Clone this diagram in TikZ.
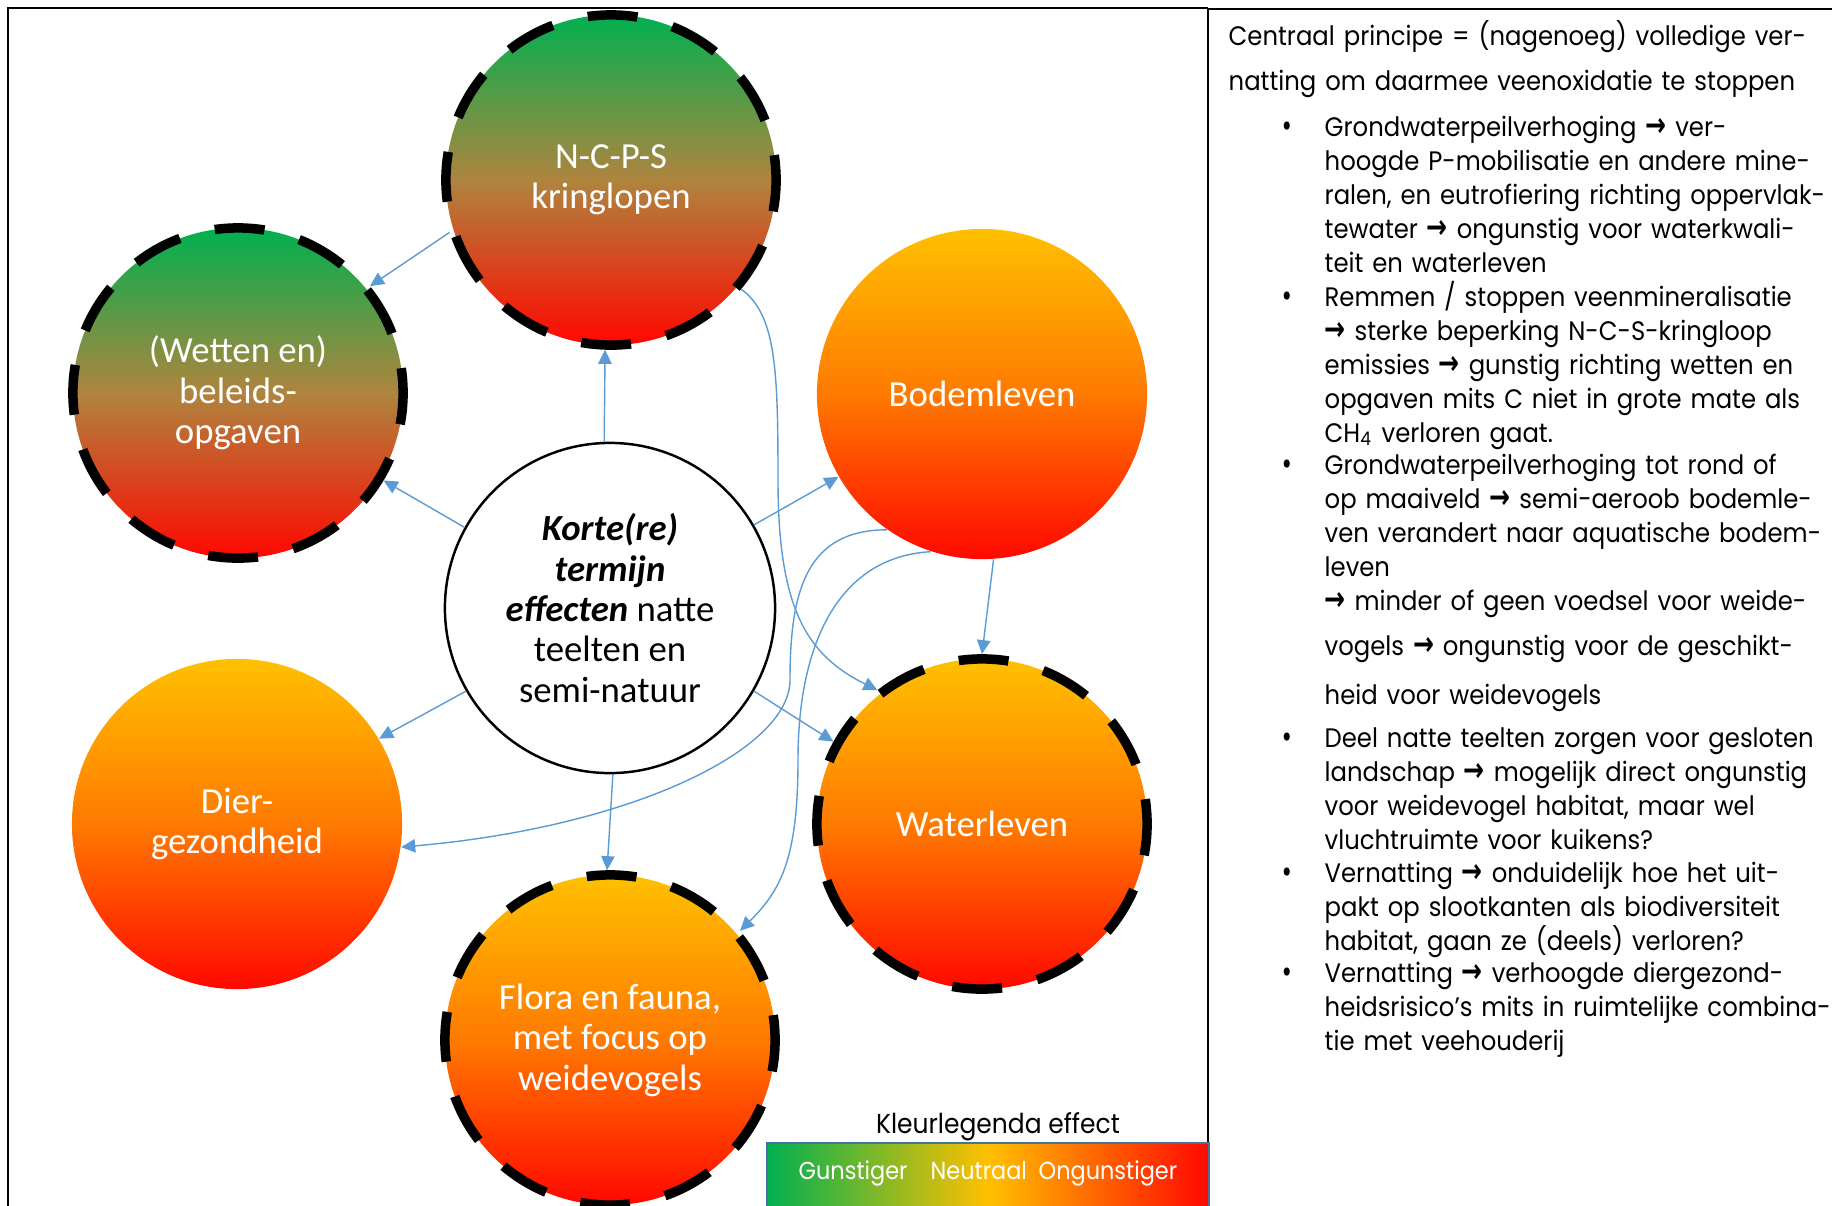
\documentclass[tikz,border=0pt]{standalone}
\usepackage{fontspec}
\setmainfont{Carlito}
\newfontfamily\gothic[FakeStretch=0.91]{Poppins}
\newfontfamily\pijlfont[FakeStretch=0.75]{DejaVu Sans}
\usetikzlibrary{arrows.meta}

\definecolor{gunstig}{RGB}{0,176,80}
\definecolor{bruin}{RGB}{175,132,62}
\definecolor{neutraal}{RGB}{255,192,0}
\definecolor{oranjemid}{RGB}{255,122,0}
\definecolor{ongunstig}{RGB}{255,8,0}
\definecolor{lijnblauw}{RGB}{91,155,213}
\definecolor{legrand}{RGB}{70,114,160}

\newcommand{\pijl}{{\pijlfont\bfseries\fontsize{9.5}{9.5}\selectfont →}}
\newcommand{\stip}{{\pijlfont\fontsize{8}{8}\selectfont •}}

\tikzset{
  kring/.style={circle,minimum size=3.3cm,inner sep=0pt,align=center,text=white,
    font=\fontsize{10.45}{11.5}\selectfont},
  goedslecht/.style={kring,top color=gunstig,bottom color=ongunstig,middle color=bruin},
  oranje/.style={kring,top color=neutraal,bottom color=ongunstig,middle color=oranjemid},
  streep/.style={draw=black,line width=2.7pt,dash pattern=on 14.2pt off 10.23pt,dash phase=7.1pt},
  kern/.style={circle,minimum size=3.3cm,inner sep=0pt,align=center,draw=black,
    line width=0.7pt,fill=white,font=\fontsize{10.45}{11.5}\selectfont},
  verband/.style={draw=lijnblauw,line width=0.4pt,-{Triangle[length=4pt,width=3.8pt]}},
  tekst/.style={anchor=base west,inner sep=0pt,text width=6.5cm,align=left,
    font=\gothic\fontsize{7.6}{9.67}\selectfont},
  punt/.style={anchor=base west,inner sep=0pt,font=\gothic\fontsize{7.6}{9.67}\selectfont},
  legtekst/.style={anchor=base west,inner sep=0pt,text=white,font=\gothic\fontsize{7}{8}\selectfont},
}

\begin{document}
\begin{tikzpicture}[x=0.01cm,y=-0.01cm]
\useasboundingbox (0,0) rectangle (1832,1205);
% kaders
\draw[line width=0.5pt] (8,1215) -- (8,8) -- (1208,8);
\draw[line width=0.7pt] (1208,1215) -- (1208,9) -- (1840,9);

% effecten
\node[goedslecht,streep] (ncps) at (611,180) {N-C-P-S\\kringlopen};
\node[goedslecht,streep] (wetten) at (238,393) {(Wetten en)\\beleids-\\opgaven};
\node[oranje] (bodem) at (982,394) {Bodemleven};
\node[oranje] (dier) at (237,824) {Dier-\\gezondheid};
\node[oranje,streep] (water) at (982,824) {Waterleven};
\node[oranje,streep] (flora) at (610,1040) {Flora en fauna,\\met focus op\\weidevogels};
\node[kern] (kern) at (610,608) {\textbf{\textit{Korte(re)}}\\\textbf{\textit{termijn}}\\\textbf{\textit{effecten}} natte\\teelten en\\semi-natuur};

% verbanden
\coordinate (bocht1) at (790,680);
\coordinate (bocht2) at (798,760);
\coordinate (bocht3) at (778,480);
\draw[verband] (kern.92) -- (ncps.268);
\draw[verband] (ncps.198) -- (wetten.39);
\draw[verband] (kern.151) -- (wetten.-31);
\draw[verband] (kern.30) -- (bodem.210);
\draw[verband] (kern.210) -- (dier.31);
\draw[verband] (kern.-30) -- (water.151);
\draw[verband] (kern.-89) -- (flora.91);
\draw[verband] (bodem.-86) -- (water.90);
\draw[verband] (ncps.-40) .. controls +(35,25) and +(0,-110) .. (bocht3)
  .. controls +(0,130) and +(-70,-35) .. (water.128);
\draw[verband] (bodem.235) .. controls +(-80,0) and +(0,-90) .. (bocht1)
  .. controls +(0,70) and +(230,-20) .. (dier.-8);
\draw[verband] (bodem.252) .. controls +(-90,5) and +(0,-120) .. (bocht2)
  .. controls +(0,100) and +(40,-40) .. (flora.40);

% toelichting
\node[tekst] (intro) at (1228,45) {Centraal principe = (nagenoeg) volledige ver-\\[3.4pt]natting om daarmee veenoxidatie te stoppen};
\node[punt] (p1) at (1280,136) {\stip};
\node[tekst] (b1) at (1324,136) {Grondwaterpeilverhoging \pijl{} ver-\\hoogde P-mobilisatie en andere mine-\\ralen, en eutrofiering richting oppervlak-\\tewater \pijl{} ongunstig voor waterkwali-\\teit en waterleven};
\node[punt] (p2) at (1280,306) {\stip};
\node[tekst] (b2) at (1324,306) {Remmen / stoppen veenmineralisatie\\\pijl{} sterke beperking N-C-S-kringloop\\emissies \pijl{} gunstig richting wetten en\\opgaven mits C niet in grote mate als\\CH\textsubscript{4} verloren gaat.};
\node[punt] (p3) at (1280,474) {\stip};
\node[tekst] (b3) at (1324,474) {Grondwaterpeilverhoging tot rond of\\op maaiveld \pijl{} semi-aeroob bodemle-\\ven verandert naar aquatische bodem-\\leven\\\pijl{} minder of geen voedsel voor weide-\\[3.4pt]vogels \pijl{} ongunstig voor de geschikt-\\[4pt]heid voor weidevogels};
\node[punt] (p4) at (1280,747) {\stip};
\node[tekst] (b4) at (1324,747) {Deel natte teelten zorgen voor gesloten\\landschap \pijl{} mogelijk direct ongunstig\\voor weidevogel habitat, maar wel\\vluchtruimte voor kuikens?};
\node[punt] (p5) at (1280,882) {\stip};
\node[tekst] (b5) at (1324,882) {Vernatting \pijl{} onduidelijk hoe het uit-\\pakt op slootkanten als biodiversiteit\\habitat, gaan ze (deels) verloren?};
\node[punt] (p6) at (1280,982) {\stip};
\node[tekst] (b6) at (1324,982) {Vernatting \pijl{} verhoogde diergezond-\\heidsrisico’s mits in ruimtelijke combina-\\tie met veehouderij};

% legenda
\node[punt,anchor=base,font=\gothic\fontsize{7.8}{9}\selectfont] (legkop) at (998,1133) {Kleurlegenda effect};
\draw[draw=legrand,line width=0.6pt,left color=gunstig,right color=ongunstig,middle color=neutraal] (767,1143) rectangle (1209,1225);
\node[legtekst] (gun) at (798,1179) {Gunstiger};
\node[legtekst] (neu) at (930,1179) {Neutraal};
\node[legtekst] (ong) at (1038,1179) {Ongunstiger};
\end{tikzpicture}
\end{document}
